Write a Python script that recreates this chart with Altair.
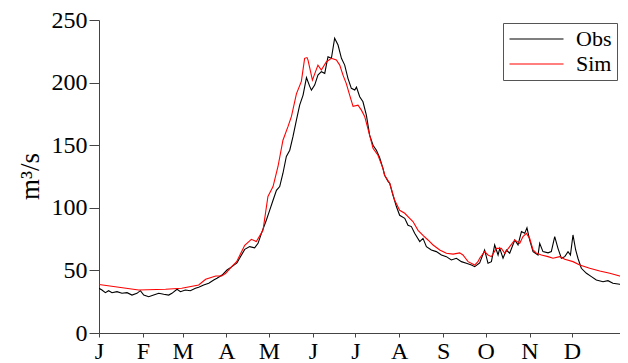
import altair as alt
import pandas as pd

# Observed discharge (day offset from 1 Jan, m3/s)
obs_day = [0, 2.1, 4.5, 6.8, 9.2, 12.7, 16.2, 19.8, 23.3, 26.8, 29.2, 31.6, 35.1, 38.6, 42.2, 45.7,
           49.2, 51.5, 55.1, 57.5, 61, 64.5, 68.1, 70.4, 73.9, 77.5, 81, 83.3, 86.9, 90.4, 93.9, 97.4,
           102.9, 106.4, 109.9, 112.3, 114.7, 118.2, 120.5, 122.9, 125.3, 127.6, 129.9, 132.3, 134.7,
           137, 139.4, 141.7, 144.1, 146.5, 148.8, 150, 152.3, 154.6, 157, 159.4, 161.7, 164.1, 166.4,
           168.8, 171.2, 173.5, 175.8, 178.2, 180.6, 181.8, 184.1, 186.4, 188.8, 191.1, 193.5, 195.9,
           198.2, 200.5, 201.7, 204.1, 205.3, 207.6, 210, 212.3, 215.9, 218.2, 220.6, 222.9, 226.5,
           228.8, 231.2, 234.7, 238.2, 241.8, 245.3, 248.8, 252.4, 255.9, 259.4, 263, 265.3, 268.8,
           272.3, 274.7, 277.1, 279.4, 281.8, 283, 285.3, 287.7, 290, 293.6, 295.9, 298.3, 300.6,
           302.2, 304.1, 306.5, 310, 311.2, 313.5, 317.1, 319.4, 321.8, 324.1, 326.5, 328.9, 331.2,
           332.9, 334.7, 336.6, 338.2, 340.6, 344.2, 347.7, 351.2, 355.9, 359.4, 362.9, 367.7, 371.2,
           373.3]
obs_val = [35.7, 34.3, 32.2, 33.8, 32.2, 33, 31.7, 32.2, 30.3, 31.7, 33.8, 30.3, 29, 30.3, 31.7, 30.9,
           30.3, 31.7, 34.9, 33, 34.3, 33.8, 35.7, 36.5, 38.3, 39.7, 42.3, 43.7, 46.3, 50.3, 53, 56,
           66.8, 69, 68, 71.6, 79.6, 90.3, 98, 106, 114, 117, 127.6, 141, 146,
           157, 170, 182, 190, 204, 197, 194, 198, 206, 208.7, 207.4, 220.7, 219.4, 235.4,
           230, 219.4, 214, 203.4, 195.4, 194, 196.4, 188.7, 184.7, 174, 158, 150, 146,
           140, 131.5, 126, 121, 119.6, 110, 101, 94, 91.6, 86, 85, 79.6, 73,
           75.6, 69, 66.3, 65, 62.3, 61, 58.3, 59.7, 57, 55.7, 54.3, 53, 56,
           66.3, 55.7, 57, 70.3, 62.3, 67.6, 59.7, 66.3, 63.7, 74.3, 70.3, 81, 79.6,
           84, 74.3, 65, 62.3, 71.6, 65, 64, 65, 77, 67.6, 59.7, 61, 65,
           62.3, 78.3, 66.3, 59.7, 51.7, 47.7, 45, 42.3, 41, 41.8, 39.7, 38.9, 38.3,
           37]

# Simulated discharge
sim_day = [0, 28, 47, 58.4, 70.4, 75.3, 82.4, 86.6, 89.5, 93.7, 97.2, 102.9, 107.6, 111.1, 115.8,
           119.3, 122.9, 126.4, 129.9, 133.5, 135.9, 139.4, 142.9, 145.2, 146.9, 147.6, 150.7, 154.6,
           157, 160.6, 164.1, 167.6, 170, 172.3, 174.7, 177, 179.4, 182.9, 185.3, 187.6, 191.1, 193.5,
           197, 200.5, 201.7, 205.3, 208.8, 212.3, 215.9, 219.4, 221.7, 225.3, 228.8, 232.3, 235.9,
           240.6, 245.3, 250, 254.7, 257, 260.6, 265.3, 267.6, 268.8, 272.3, 274.7, 277.1, 280.6,
           284.1, 286.5, 290, 293.6, 297.1, 299.4, 301.8, 304.1, 306.5, 308.9, 312.4, 317.1, 320.6,
           325.3, 328.9, 334.7, 339.5, 346.5, 353.6, 360.7, 367.7, 373.3]
sim_val = [38.8, 34.3, 34.9, 35.7, 38.3, 42.9, 45.5, 45.5, 47.7, 53, 57, 70, 74.8, 73, 82,
           109, 117, 133, 154, 165, 173, 191, 201, 219.4, 220, 218, 202, 214,
           210, 216.7, 219.4, 218, 214, 206, 199, 190, 181, 182, 178, 173, 158, 147.5,
           142, 131.5, 126, 119.6, 106, 98, 95.6, 91.6, 89, 82, 78, 74.3, 70.3,
           66.3, 63.7, 63, 64, 62.3, 57, 54.3, 57, 59.7, 65, 62.3, 61, 67.6,
           67.6, 63.7, 69, 74.3, 71.6, 77, 79.6, 75.6, 66.3, 63.7, 62.3, 61, 59.7,
           61, 58.9, 57, 54.3, 51.7, 49.5, 47.7, 45.5, 44.2]

month_starts = [0, 31, 59, 90, 120, 151, 181, 212, 243, 273, 304, 334]
month_labels = ["J", "F", "M", "A", "M", "J", "J", "A", "S", "O", "N", "D"]
y_ticks = [0, 50, 100, 150, 200, 250]

df = pd.concat([
    pd.DataFrame({"day": obs_day, "q": obs_val, "series": "Obs"}),
    pd.DataFrame({"day": sim_day, "q": sim_val, "series": "Sim"}),
])

label_expr = "{}[indexof({}, datum.value)]".format(
    "[" + ",".join("'%s'" % m for m in month_labels) + "]",
    "[" + ",".join(str(v) for v in month_starts) + "]",
)

FONT = "Liberation Serif"

chart = alt.Chart(df).mark_line(strokeWidth=1.1, clip=True).encode(
    x=alt.X("day:Q",
            scale=alt.Scale(domain=[0, 367.9], nice=False, zero=False),
            axis=alt.Axis(values=month_starts, labelExpr=label_expr, title=None,
                          grid=False, tickSize=4, labelPadding=2, labelFontSize=24,
                          labelFont=FONT, labelColor="black", domainColor="#444",
                          tickColor="#444", labelFlush=False, labelOverlap=False)),
    y=alt.Y("q:Q",
            scale=alt.Scale(domain=[0, 250], nice=False),
            axis=alt.Axis(values=y_ticks, title="m³/s", grid=False, tickSize=10,
                          labelPadding=2, labelFontSize=24, labelFont=FONT,
                          labelColor="black", domainColor="#444", tickColor="#444",
                          titleFont=FONT, titleFontSize=27, titleFontWeight="normal",
                          titleColor="black", titleAngle=-90, titleX=-61, titleY=156,
                          titleAlign="center", titleBaseline="alphabetic",
                          labelFlush=False)),
    color=alt.Color("series:N",
                    scale=alt.Scale(domain=["Obs", "Sim"], range=["#000000", "#FF0000"]),
                    legend=alt.Legend(title=None, orient="none", legendX=404, legendY=3,
                                      symbolType="M-1.9,0H8.9", symbolSize=100,
                                      symbolStrokeWidth=1.2, labelFont=FONT,
                                      labelFontSize=22, labelColor="black",
                                      labelOffset=46, padding=5, rowPadding=3,
                                      strokeColor="#555", fillColor="white")),
).properties(
    width=521,
    height=313,
    padding={"left": 91, "top": 12, "right": 0, "bottom": 30},
    autosize=alt.AutoSizeParams(type="none"),
).configure_view(stroke=None)

chart.save("out.html", embed_options={"renderer": "svg", "actions": False})
